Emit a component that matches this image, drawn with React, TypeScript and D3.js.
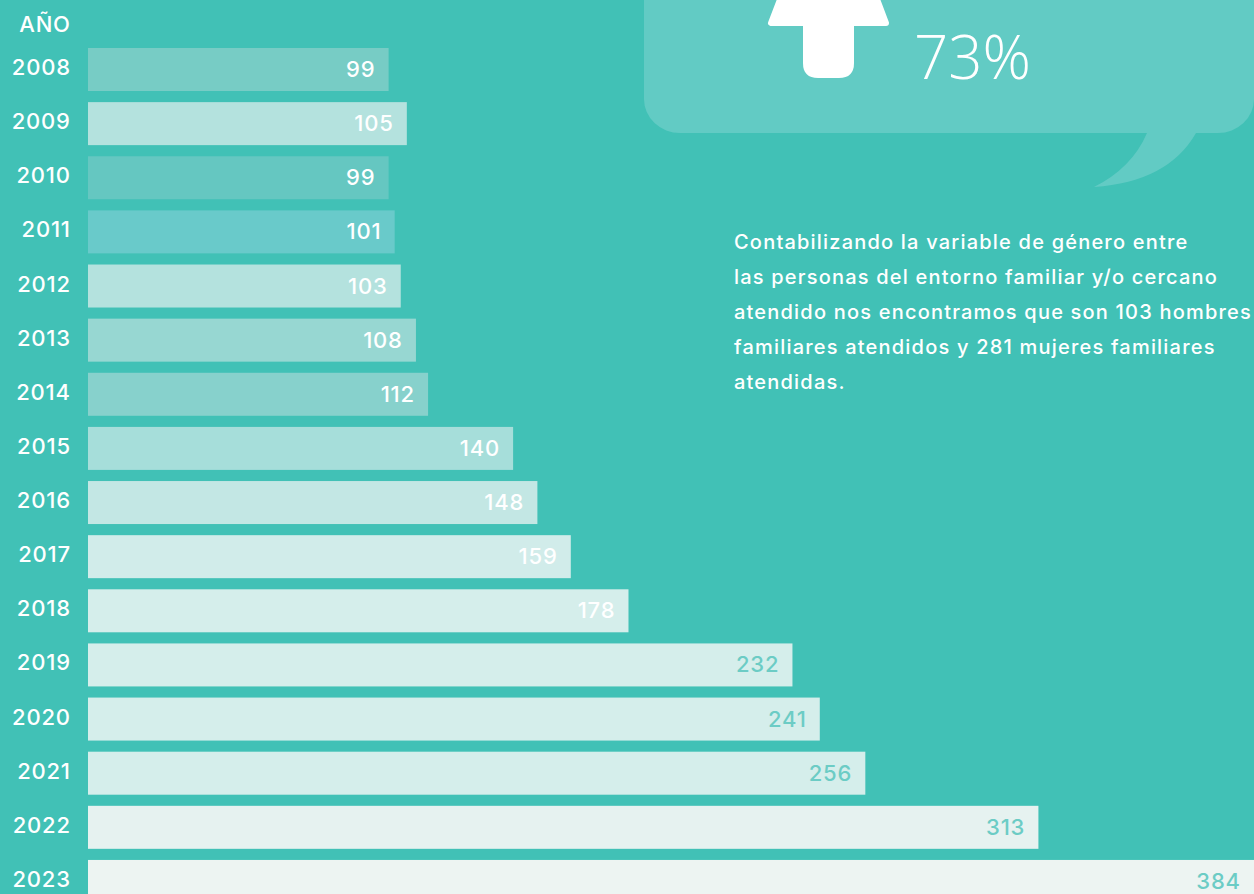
import React from "react";
import * as d3 from "d3";

const years = ["2008","2009","2010","2011","2012","2013","2014","2015","2016","2017","2018","2019","2020","2021","2022","2023"];
const values = [99,105,99,101,103,108,112,140,148,159,178,232,241,256,313,384];
const barColors = ["#77CCC5","#B4E2DE","#65C7C1","#69CACA","#B4E2DE","#97D7D2","#87D1CC","#A6DEDA","#C3E7E4","#D1ECEA","#D5EEEB","#D5EEEB","#D5EEEB","#D5EEEB","#E6F2F0","#EDF4F2"];
const labelColors = ["#FFFFFF","#FFFFFF","#FFFFFF","#FFFFFF","#FFFFFF","#FFFFFF","#FFFFFF","#FFFFFF","#FFFFFF","#FFFFFF","#FFFFFF","#6CCCC5","#6CCCC5","#6CCCC5","#6CCCC5","#6CCCC5"];
const axisTitle = "AÑO";
const headline = "73%";
const noteLines = [
  "Contabilizando la variable de género entre",
  "las personas del entorno familiar y/o cercano",
  "atendido nos encontramos que son 103 hombres",
  "familiares atendidos y 281 mujeres familiares",
  "atendidas.",
];

const W = 1254;
const H = 894;
const BG = "#41C1B6";
const FONT = "Inter, 'Open Sans', sans-serif";
const FONT_LIGHT = "'Open Sans', sans-serif";
const LS = 0.8;

export default function App() {
  const x = d3.scaleLinear().domain([0, 384]).range([88, 1254]);
  const y = d3.scaleBand<string>().domain(years).range([48, 48 + 54.13 * (16 - 0.2056)]).paddingInner(0.2056).paddingOuter(0);
  const bw = y.bandwidth();

  const tail = d3.path();
  tail.moveTo(1140, 130);
  tail.lineTo(1147, 133);
  tail.quadraticCurveTo(1132, 168, 1094, 187);
  tail.quadraticCurveTo(1168, 182, 1196, 133);
  tail.lineTo(1200, 130);
  tail.closePath();

  const shaft = d3.path();
  shaft.moveTo(803, 15);
  shaft.lineTo(854, 15);
  shaft.lineTo(854, 63);
  shaft.quadraticCurveTo(854, 78, 839, 78);
  shaft.lineTo(818, 78);
  shaft.quadraticCurveTo(803, 78, 803, 63);
  shaft.closePath();

  return (
    <svg width={W} height={H} style={{ position: "absolute", left: 0, top: 0, display: "block" }}>
      <rect x={0} y={0} width={W} height={H} fill={BG} />
      {/* speech bubble */}
      <rect x={644} y={-60} width={610} height={193} rx={36} ry={34} fill="#62CBC4" />
      <path d={tail.toString()} fill="#62CBC4" />
      {/* arrow */}
      <path d={shaft.toString()} fill="#FFFFFF" />
      <polygon points="771,23 886,23 829,-128" fill="#FFFFFF" stroke="#FFFFFF" strokeWidth={6} strokeLinejoin="round" />
      <text x={914} y={79} fill="#FFFFFF" fontFamily={FONT_LIGHT} fontWeight={300} fontSize={60}>{headline}</text>

      {/* note */}
      {noteLines.map((t, i) => (
        <text key={i} x={734} y={249 + i * 35} fill="#FFFFFF" fontFamily={FONT} fontWeight={500} fontSize={20} letterSpacing={1.2}>{t}</text>
      ))}

      {/* axis title */}
      <text x={70 + LS} y={32} textAnchor="end" fill="#FFFFFF" fontFamily={FONT} fontWeight={500} fontSize={22} letterSpacing={LS}>{axisTitle}</text>

      {years.map((yr, i) => {
        const top = y(yr) as number;
        const cy = top + bw / 2;
        return (
          <g key={yr}>
            <rect x={x(0)} y={top} width={x(values[i]) - x(0)} height={bw} fill={barColors[i]} />
            <text x={70 + LS} y={cy + 5.5} textAnchor="end" fill="#FFFFFF" fontFamily={FONT} fontWeight={500} fontSize={22} letterSpacing={LS}>{yr}</text>
            <text x={x(values[i]) - 14 + LS} y={cy + 7.5} textAnchor="end" fill={labelColors[i]} fontFamily={FONT} fontWeight={500} fontSize={22} letterSpacing={LS}>{values[i]}</text>
          </g>
        );
      })}
    </svg>
  );
}
